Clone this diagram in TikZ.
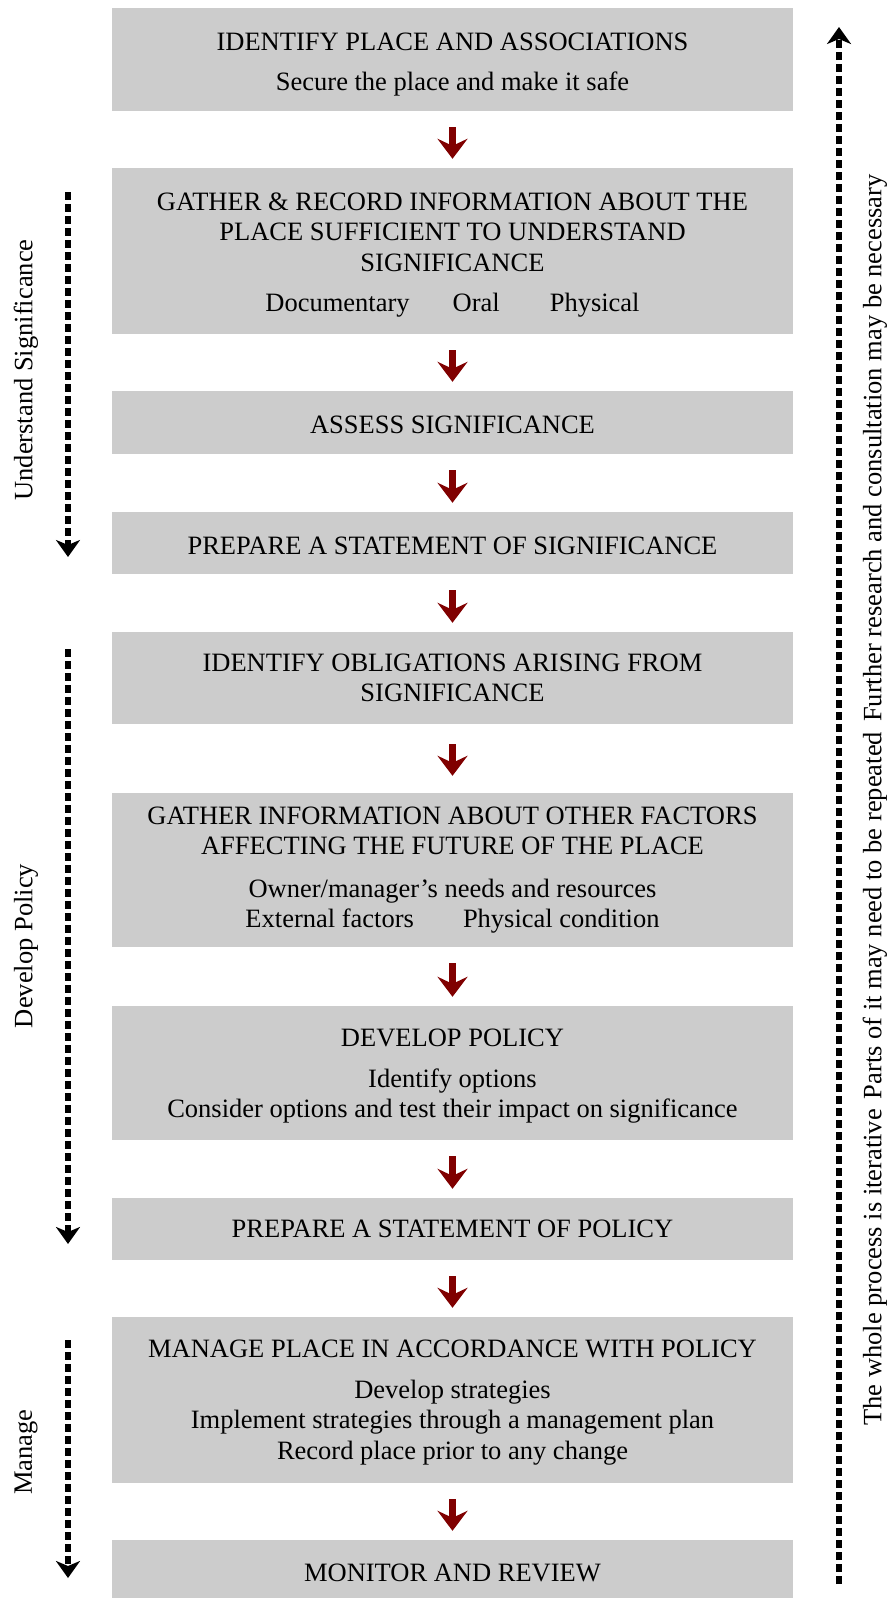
\documentclass[tikz,border=0pt]{standalone}
\usepackage{fontspec}
\setmainfont{Liberation Serif}
\usetikzlibrary{arrows.meta}
\definecolor{boxgray}{HTML}{CCCCCC}
\definecolor{darkred}{HTML}{800000}
\begin{document}
\begin{tikzpicture}[x=1pt,y=-1pt,
  stepbox/.style={fill=boxgray, minimum width=681pt, inner sep=0pt, align=center,
    font=\fontsize{26.5}{30.5}\selectfont},
  flow/.style={draw=darkred, line width=7.5pt,
    -{Stealth[length=20pt,width=30pt,inset=7pt]}, shorten <=16pt, shorten >=9pt},
  phase/.style={draw=black, line width=5.5pt, dash pattern=on 8pt off 4pt,
    -{Stealth[length=17pt,width=24pt,inset=5pt]}},
  lbl/.style={font=\fontsize{26.5}{30.5}\selectfont, rotate=90, inner sep=0pt}
]
\fill[white] (0,0) rectangle (892,1598);
\useasboundingbox (0,0) rectangle (892,1598);

\node[stepbox, minimum height=103pt] (b1) at (452.5,59.5)
  {\rule{0pt}{28pt}IDENTIFY PLACE AND ASSOCIATIONS\\[9pt]Secure the place and make it safe};
\node[stepbox, minimum height=166pt] (b2) at (452.5,251)
  {\rule{0pt}{26pt}GATHER \& RECORD INFORMATION ABOUT THE\\PLACE SUFFICIENT TO UNDERSTAND\\SIGNIFICANCE\\[10pt]Documentary\hspace{43pt}Oral\hspace{50pt}Physical};
\node[stepbox, minimum height=63pt] (b3) at (452.5,422.5) {\rule{0pt}{23pt}ASSESS SIGNIFICANCE};
\node[stepbox, minimum height=62pt] (b4) at (452.5,543) {\rule{0pt}{23pt}PREPARE A STATEMENT OF SIGNIFICANCE};
\node[stepbox, minimum height=92pt] (b5) at (452.5,678)
  {IDENTIFY OBLIGATIONS ARISING FROM\\SIGNIFICANCE};
\node[stepbox, minimum height=154pt] (b6) at (452.5,870)
  {GATHER INFORMATION ABOUT OTHER FACTORS\\AFFECTING THE FUTURE OF THE PLACE\\[12pt]Owner/manager’s needs and resources\\External factors\hspace{49pt}Physical condition};
\node[stepbox, minimum height=134pt] (b7) at (452.5,1073)
  {\rule{0pt}{24pt}DEVELOP POLICY\\[10pt]Identify options\\Consider options and test their impact on significance};
\node[stepbox, minimum height=62pt] (b8) at (452.5,1229) {PREPARE A STATEMENT OF POLICY};
\node[stepbox, minimum height=166pt] (b9) at (452.5,1400)
  {\rule{0pt}{23pt}MANAGE PLACE IN ACCORDANCE WITH POLICY\\[10pt]Develop strategies\\Implement strategies through a management plan\\Record place prior to any change};
\node[stepbox, minimum height=60pt] (b10) at (452.5,1570) {\rule{0pt}{23pt}MONITOR AND REVIEW};

\foreach \a/\b in {b1/b2,b2/b3,b3/b4,b4/b5,b6/b7,b7/b8,b8/b9,b9/b10}
  \draw[flow] (\a.south) -- (\b.north);
\draw[flow, shorten <=20pt, shorten >=17pt] (b5.south) -- (b6.north);

\coordinate (u1) at (68,192);
\coordinate (u2) at (68,557);
\coordinate (d1) at (68,649);
\coordinate (d2) at (68,1244);
\coordinate (m1) at (68,1340);
\coordinate (m2) at (68,1578);
\coordinate (r1) at (839,1584);
\coordinate (r2) at (839,27);
\draw[phase] (u1) -- (u2);
\draw[phase] (d1) -- (d2);
\draw[phase] (m1) -- (m2);
\draw[phase] (r1) -- (r2);

\node[lbl] (lu) at (26,370) {Understand Significance};
\node[lbl] (ld) at (26,946) {Develop Policy};
\node[lbl] (lm) at (26,1452) {Manage};
\node[lbl] (lr) at (875,800) {The whole process is iterative\hspace{10pt}Parts of it may need to be repeated\hspace{10pt}Further research and consultation may be necessary};
\end{tikzpicture}
\end{document}
